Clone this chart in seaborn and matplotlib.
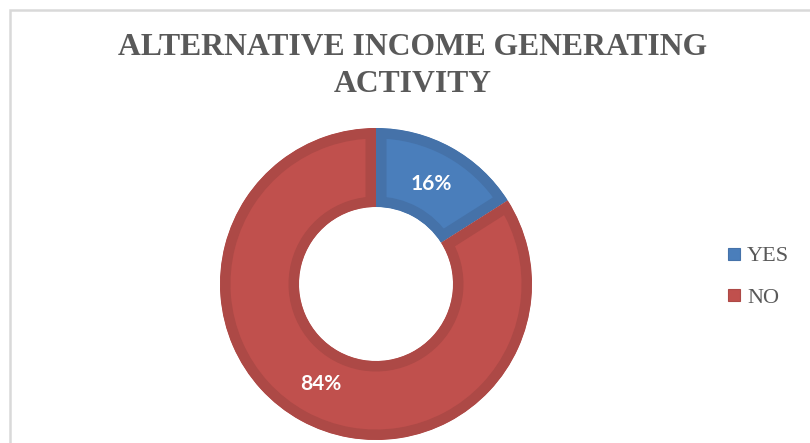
import matplotlib
matplotlib.use("Agg")
import matplotlib.pyplot as plt
import seaborn as sns
from matplotlib.lines import Line2D
from matplotlib.patches import Rectangle

# Survey answers
categories = ["YES", "NO"]
shares = [16, 84]
title_text = "ALTERNATIVE INCOME GENERATING\nACTIVITY"

fill_colors = ["#4A7EBB", "#C0504D"]
edge_colors = ["#4572A9", "#AD4946"]
text_grey = "#595959"

sns.set_theme(style="white")
plt.rcParams["font.family"] = ["DejaVu Sans"]

W, H, DPI = 810, 443, 100
fig = plt.figure(figsize=(W / DPI, H / DPI), dpi=DPI, facecolor="white")

# frame around the chart area
fig.patches.append(Rectangle((10 / W, -0.1), 1.2, (H - 10) / H + 0.1,
                             transform=fig.transFigure, fill=False,
                             ec="#D9D9D9", lw=1.8))

# donut axes: square box of S px, centred on (cx, cy) measured from top-left
cx, cy, S = 376, 284, 320
ax = fig.add_axes([(cx - S / 2) / W, (H - cy - S / 2) / H, S / W, S / H])
ax.set_axis_off()

r_out, r_in = 156, 77
scale = (S / 2)
radius = r_out / scale
ring = (r_out - r_in) / scale
band_px = 10.5

pie = ax.pie(
    shares, colors=fill_colors, startangle=90, counterclock=False,
    radius=radius, wedgeprops=dict(width=ring, linewidth=0),
    autopct=lambda p: f"{p:.0f}%", pctdistance=((r_out + r_in) / 2 - 2) / r_out,
    textprops=dict(color="white", fontsize=15, fontweight="bold",
                   family=["Lato", "DejaVu Sans"]),
)
wedges = pie[0]
ax.set_xlim(-1, 1)
ax.set_ylim(-1, 1)

# darker border kept inside each wedge: wide outline clipped to the wedge shape
for w, ec in zip(wedges, edge_colors):
    w.set_edgecolor(ec)
    w.set_linewidth(2 * band_px * 72 / DPI)
    w.set_clip_on(True)
    w.set_clip_path(w.get_path(), w.get_transform())

fig.text(413 / W, 1 - 66 / H, title_text, ha="center", va="center",
         fontsize=22.8, fontweight="bold", color=text_grey,
         family=["Liberation Serif"], linespacing=1.35)

handles = [Line2D([], [], marker="s", ls="", markersize=8.6,
                  markerfacecolor=c, markeredgecolor=e, markeredgewidth=0.8)
           for c, e in zip(fill_colors, edge_colors)]
fig.legend(handles, categories, loc="center left",
           bbox_to_anchor=(717 / W, 1 - 277 / H), frameon=False,
           prop=dict(family="Liberation Serif", size=16),
           labelcolor=text_grey, handlelength=0.7, handletextpad=0.25,
           labelspacing=0.95, borderaxespad=0)

fig.savefig("out.png", dpi=DPI, facecolor="white")
